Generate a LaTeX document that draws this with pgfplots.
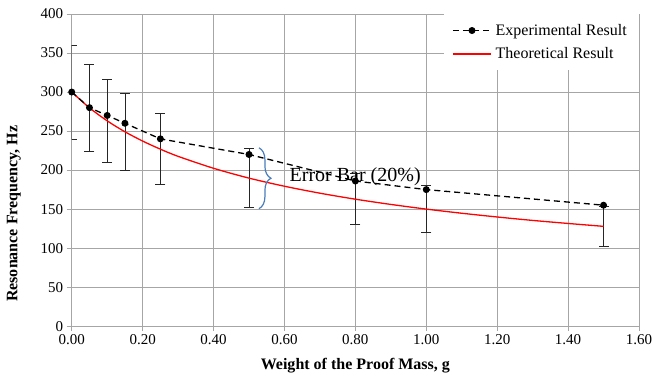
\documentclass[border=0pt]{standalone}
\usepackage{pgfplots}
\pgfplotsset{compat=1.18}
\usepackage{fontspec}
\setmainfont{Liberation Serif}
\usetikzlibrary{decorations.pathreplacing}
\definecolor{gridgray}{HTML}{A6A6A6}
\definecolor{bracebl}{HTML}{4A7EBB}
\begin{document}
\begin{tikzpicture}
\begin{axis}[
  scale only axis, width=567pt, height=312pt,
  xmin=0, xmax=1.6, ymin=0, ymax=400,
  xtick={0,0.2,0.4,0.6,0.8,1.0,1.2,1.4,1.6},
  ytick={0,50,100,150,200,250,300,350,400},
  xticklabel style={/pgf/number format/.cd, fixed, fixed zerofill, precision=2},
  /pgf/number format/assume math mode=true,
  ticklabel style={font=\fontsize{15}{18}\selectfont},
  grid=major, major grid style={draw=gridgray, line width=0.8pt},
  axis line style={draw=gridgray, line width=0.8pt},
  tick align=outside, major tick length=5pt,
  tick style={draw=gridgray, line width=0.8pt},
  xtick pos=bottom, ytick pos=left,
  xlabel={Weight of the Proof Mass, g},
  ylabel={Resonance Frequency, Hz},
  label style={font=\fontsize{16}{19}\selectfont\bfseries},
  xlabel style={at={(axis description cs:0.5,-0.128)}, anchor=center},
  ylabel style={at={(axis description cs:-0.102,0.36)}, anchor=center},
  legend style={at={(1,1)}, anchor=north east, draw=none, fill=white,
    font=\fontsize{16}{19}\selectfont, row sep=7pt, inner xsep=8pt, inner ysep=8pt,
    nodes={inner xsep=4pt}},
  legend cell align=left,
  reverse legend,
  legend image code/.code={\draw[mark repeat=2,mark phase=2,#1] plot coordinates {(0pt,0pt) (19pt,0pt) (38pt,0pt)};},
]
% error bars (20% of theoretical)
\addplot[draw=none, forget plot, mark=none,
  error bars/.cd, y dir=both, y explicit,
  error bar style={draw=black!85, solid, line width=0.7pt},
  error mark options={rotate=90, mark size=5pt, draw=black!85, solid, line width=0.7pt}]
  coordinates {
  (0,300) +- (0,60)
  (0.05,279.8) +- (0,56.0)
  (0.10,263.1) +- (0,52.6)
  (0.15,249.1) +- (0,49.8)
  (0.25,226.8) +- (0,45.4)
  (0.50,189.7) +- (0,37.9)
  (0.80,162.7) +- (0,32.5)
  (1.00,150.0) +- (0,30.0)
  (1.50,127.9) +- (0,25.6)
  };
\addplot[red, line width=1.3pt, mark=none, smooth] coordinates {
  (0,300) (0.05,279.8) (0.10,263.1) (0.15,249.1) (0.20,237.2) (0.25,226.8)
  (0.30,217.6) (0.40,202.3) (0.50,189.7) (0.60,179.3) (0.70,170.4)
  (0.80,162.7) (0.90,156.0) (1.00,150.0) (1.10,144.7) (1.20,139.9)
  (1.30,135.5) (1.40,131.6) (1.50,127.9)
  };
\addlegendentry{Theoretical Result}
\addplot[black, line width=1.3pt, dash pattern=on 6pt off 4pt,
  mark=*, mark size=2.8pt, mark options={solid, fill=black}] coordinates {
  (0,300) (0.05,280) (0.10,270) (0.15,260) (0.25,240)
  (0.50,220) (0.80,186) (1.00,175) (1.50,155)
  };
\addlegendentry{Experimental Result}
\draw[bracebl, line width=1.2pt, decorate, decoration={brace, amplitude=12pt}]
  (axis cs:0.528,228.6) -- (axis cs:0.528,150.5);
\node[anchor=west, font=\fontsize{20}{24}\selectfont, inner sep=0pt]
  at (axis cs:0.614,191) {Error Bar (20\%)};
\end{axis}
\pgfresetboundingbox
\path[use as bounding box] ([xshift=-71.7pt,yshift=-55pt]current axis.south west)
  rectangle ([xshift=13pt,yshift=14pt]current axis.north east);
\end{tikzpicture}
\end{document}
